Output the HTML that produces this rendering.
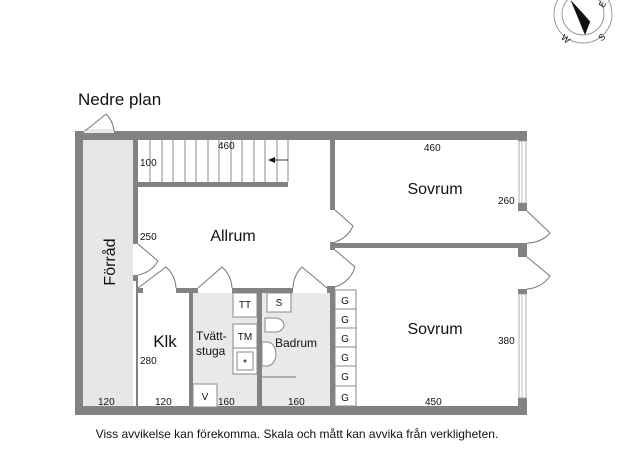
<!DOCTYPE html>
<html><head><meta charset="utf-8"><style>html,body{margin:0;padding:0;background:#fff}svg{display:block}text{font-family:"Liberation Sans",sans-serif;fill:#111}</style></head>
<body>
<svg width="625" height="460" viewBox="0 0 625 460" xmlns="http://www.w3.org/2000/svg">
<!-- compass -->
<g stroke="#999" fill="none" stroke-width="1">
<circle cx="583" cy="14" r="29"/><circle cx="583" cy="14" r="21"/>
</g>
<polygon points="571,1 590,22 585,35" fill="#111"/>
<polygon points="571,1 583,14 590,22" fill="#fff" stroke="#111" stroke-width="0.8"/>
<text x="562" y="42" font-size="9" transform="rotate(40 566 38)">W</text>
<text x="598" y="40" font-size="9" transform="rotate(-40 602 36)">S</text>
<text x="600" y="8" font-size="9" transform="rotate(-60 602 5)">E</text>

<text x="78" y="105" font-size="17">Nedre plan</text>

<!-- fills -->
<rect x="83" y="139" width="50" height="268" fill="#e9e7e5"/>
<rect x="193" y="293" width="64" height="114" fill="#ebe9e7"/>
<rect x="262" y="293" width="68" height="114" fill="#ebe9e7"/>

<!-- stairs -->
<g stroke="#888" stroke-width="1">
<line x1="150" y1="140" x2="150" y2="182"/><line x1="162" y1="140" x2="162" y2="182"/><line x1="173" y1="140" x2="173" y2="182"/><line x1="185" y1="140" x2="185" y2="182"/><line x1="196" y1="140" x2="196" y2="182"/><line x1="208" y1="140" x2="208" y2="182"/><line x1="219" y1="140" x2="219" y2="182"/><line x1="231" y1="140" x2="231" y2="182"/><line x1="242" y1="140" x2="242" y2="182"/><line x1="254" y1="140" x2="254" y2="182"/><line x1="265" y1="140" x2="265" y2="182"/><line x1="277" y1="140" x2="277" y2="182"/><line x1="288" y1="140" x2="288" y2="182"/>
<line x1="270" y1="160" x2="288" y2="160" stroke="#333"/>
</g>
<polygon points="268,160 275,157 275,163" fill="#111"/>

<!-- walls -->
<g fill="#828282">
<rect x="75" y="131" width="452" height="9"/>
<rect x="75" y="131" width="8" height="284"/>
<rect x="75" y="406" width="452" height="9"/>
<rect x="518" y="131" width="9" height="10"/>
<rect x="518" y="203" width="9" height="8"/>
<rect x="518" y="243" width="9" height="14"/>
<rect x="518" y="289" width="9" height="5"/>
<rect x="518" y="398" width="9" height="17"/>
<rect x="133" y="139" width="5" height="105"/>
<rect x="133" y="275" width="5" height="6"/>
<rect x="136" y="281" width="2" height="126"/>
<rect x="138" y="182" width="150" height="5"/>
<rect x="330" y="139" width="5" height="71"/>
<rect x="330" y="242" width="5" height="8"/>
<rect x="335" y="243" width="183" height="5"/>
<rect x="138" y="288" width="5" height="5"/>
<rect x="176" y="288" width="22" height="5"/>
<rect x="232" y="288" width="61" height="5"/>
<rect x="327" y="286" width="8" height="7"/>
<rect x="330" y="293" width="5" height="114"/>
<rect x="189" y="293" width="4" height="114"/>
<rect x="257" y="293" width="5" height="114"/>
</g>
<rect x="84" y="129" width="30" height="4" fill="#e9e7e5"/>
<!-- windows -->
<g fill="#fff" stroke="#999" stroke-width="0.8">
<rect x="519" y="141" width="7" height="62"/>
<rect x="519" y="294" width="7" height="104"/>
</g>
<line x1="522" y1="141" x2="522" y2="203" stroke="#999" stroke-width="0.6"/>
<line x1="522" y1="294" x2="522" y2="398" stroke="#999" stroke-width="0.6"/>

<!-- doors -->
<g fill="none" stroke="#777" stroke-width="1">
<path d="M85,131 L106,114 A28,28 0 0 1 114,131"/>
<path d="M138,244 L158,261 A30,30 0 0 1 138,275"/>
<path d="M138,288 L166,267 A30,30 0 0 1 176,288"/>
<path d="M198,288 L222,267 A30,30 0 0 1 232,288"/>
<path d="M327,288 L302,267 A30,30 0 0 0 293,288"/>
<path d="M335,210 L353,226 A30,30 0 0 1 335,242"/>
<path d="M335,250 L355,267 A30,30 0 0 1 335,287"/>
<path d="M527,211 L550,233 A30,30 0 0 1 527,243"/>
<path d="M527,257 L550,276 A30,30 0 0 1 527,289"/>
</g>

<!-- fixtures -->
<g fill="#fff" stroke="#888" stroke-width="1">
<rect x="233" y="293" width="24" height="24"/>
<rect x="233" y="324" width="24" height="24"/>
<rect x="233" y="348" width="24" height="26"/>
<rect x="237" y="352" width="16" height="18"/>
<rect x="193" y="384" width="24" height="23"/>
<rect x="267" y="293" width="24" height="19"/>
<path d="M265,318 h10 a9,7 0 0 1 0,14 h-10 z"/>
<path d="M262,342 h5 a9,12 0 0 1 0,24 h-5 z"/>
<rect x="335" y="290" width="21" height="19"/><rect x="335" y="309" width="21" height="19"/><rect x="335" y="328" width="21" height="19"/><rect x="335" y="347" width="21" height="19"/><rect x="335" y="366" width="21" height="20"/><rect x="335" y="386" width="21" height="20"/>
</g>
<line x1="262" y1="377" x2="296" y2="377" stroke="#777"/>
<circle cx="245" cy="361" r="1.5" fill="#555"/>

<g font-size="10" text-anchor="middle">
<text x="245" y="308">TT</text><text x="245" y="340">TM</text><text x="205" y="400">V</text><text x="279" y="306">S</text>
<text x="345" y="304">G</text><text x="345" y="323">G</text><text x="345" y="342">G</text><text x="345" y="361">G</text><text x="345" y="380">G</text><text x="345" y="401">G</text>
</g>
<g font-size="10">
<text x="218" y="149">460</text><text x="140" y="166">100</text><text x="140" y="240">250</text>
<text x="424" y="151">460</text><text x="498" y="204">260</text><text x="498" y="344">380</text>
<text x="425" y="405">450</text><text x="140" y="364">280</text>
<text x="98" y="405">120</text><text x="155" y="405">120</text><text x="218" y="405">160</text><text x="288" y="405">160</text>
</g>
<text x="233" y="241" font-size="16" text-anchor="middle">Allrum</text>
<text x="435" y="194" font-size="16" text-anchor="middle">Sovrum</text>
<text x="435" y="334" font-size="16" text-anchor="middle">Sovrum</text>
<text x="165" y="347" font-size="17" text-anchor="middle">Klk</text>
<text x="196" y="340" font-size="12">Tvätt-</text>
<text x="196" y="355" font-size="12">stuga</text>
<text x="275" y="347" font-size="12">Badrum</text>
<text x="0" y="0" font-size="16" text-anchor="middle" transform="translate(115,262) rotate(-90)">Förråd</text>
<text x="297" y="438" font-size="12" text-anchor="middle">Viss avvikelse kan förekomma. Skala och mått kan avvika från verkligheten.</text>
</svg>
</body></html>
